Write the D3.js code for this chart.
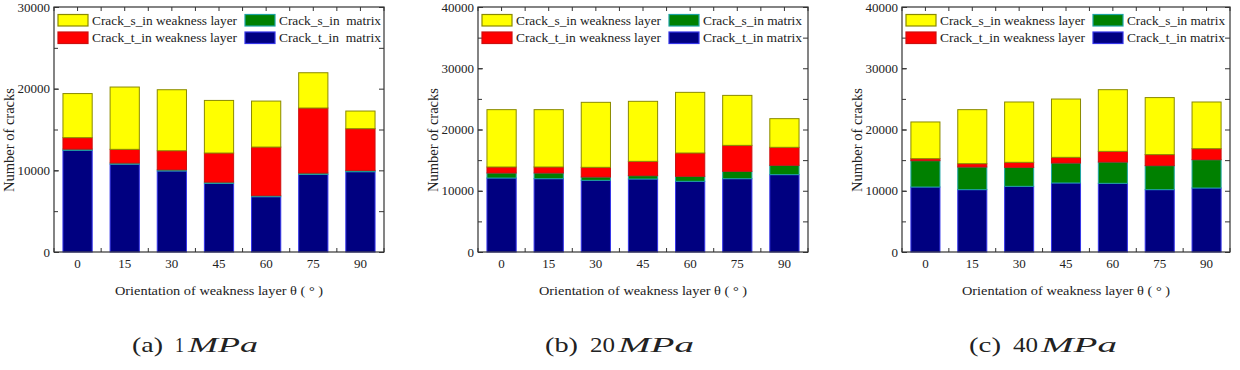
<!DOCTYPE html>
<html>
<head>
<meta charset="utf-8">
<script src="https://cdn.jsdelivr.net/npm/d3@7"></script>
<style>
  html, body { margin: 0; padding: 0; background: #fff; }
  svg { display: block; }
  text { font-family: "Liberation Serif", "Times New Roman", serif; fill: #222; }
</style>
</head>
<body>
<svg id="chart" width="1240" height="370"></svg>
<script>
// ---------- data ----------
const categories = ["0", "15", "30", "45", "60", "75", "90"];
const seriesNames = ["Crack_t_in matrix", "Crack_s_in matrix", "Crack_t_in weakness layer", "Crack_s_in weakness layer"];

// (a) 1 MPa
const crackTMatrix1 = [12450, 10750, 9920, 8400, 6770, 9500, 9830];
const crackSMatrix1 = [150, 150, 150, 160, 130, 170, 160];
const crackTWeak1   = [1400, 1670, 2330, 3560, 5950, 7960, 5110];
const crackSWeak1   = [5400, 7630, 7470, 6440, 5630, 4320, 2160];

// (b) 20 MPa
const crackTMatrix20 = [12080, 11970, 11700, 11920, 11540, 11970, 12630];
const crackSMatrix20 = [820, 930, 545, 540, 815, 1200, 1520];
const crackTWeak20   = [980, 980, 1580, 2340, 3810, 4240, 2940];
const crackSWeak20   = [9360, 9360, 10610, 9800, 9900, 8160, 4680];

// (c) 40 MPa
const crackTMatrix40 = [10610, 10180, 10720, 11270, 11210, 10180, 10450];
const crackSMatrix40 = [4300, 3700, 3100, 3260, 3480, 3920, 4620];
const crackTWeak40   = [330, 540, 820, 925, 1740, 1800, 1800];
const crackSWeak40   = [5990, 8820, 9850, 9520, 10070, 9310, 7620];

const yTicksA = [0, 10000, 20000, 30000];
const yTicksBC = [0, 10000, 20000, 30000, 40000];
const captionsLabel = ["(a)", "(b)", "(c)"];
const captionsValue = ["1", "20", "40"];

// ---------- styling ----------
const fills   = ["#000080", "#008000", "#ff0000", "#ffff00"];
const strokes = ["#3535e8", "#1fa3a3", "#cc1010", "#8a8a00"];

const panels = [
  { left: 54,  width: 330, ymax: 30000, ticks: yTicksA,  data: [crackTMatrix1, crackSMatrix1, crackTWeak1, crackSWeak1], legendMatrix: ["Crack_s_in  matrix", "Crack_t_in  matrix"], matrixW: 102,
    cap: { x1: 132, w1: 31, x2: 175, w2: 9, x3: 188, w3: 70 } },
  { left: 478, width: 330, ymax: 40000, ticks: yTicksBC, data: [crackTMatrix20, crackSMatrix20, crackTWeak20, crackSWeak20], legendMatrix: ["Crack_s_in matrix", "Crack_t_in matrix"], matrixW: 99,
    cap: { x1: 545, w1: 33, x2: 590, w2: 25, x3: 618, w3: 76 } },
  { left: 902, width: 328, ymax: 40000, ticks: yTicksBC, data: [crackTMatrix40, crackSMatrix40, crackTWeak40, crackSWeak40], legendMatrix: ["Crack_s_in matrix", "Crack_t_in matrix"], matrixW: 98,
    cap: { x1: 969, w1: 32, x2: 1013, w2: 25, x3: 1041, w3: 76 } }
];

const plotTop = 7, plotBottom = 252;
const svg = d3.select("#chart");

panels.forEach((p, pi) => {
  const g = svg.append("g");
  const right = p.left + p.width;
  const x = d3.scaleBand().domain(categories).range([p.left, right]).paddingInner(0.38).paddingOuter(0.19);
  const y = d3.scaleLinear().domain([0, p.ymax]).range([plotBottom, plotTop]);

  const rows = categories.map((c, i) => {
    const r = { cat: c };
    seriesNames.forEach((s, k) => r[s] = p.data[k][i]);
    return r;
  });
  const stacked = d3.stack().keys(seriesNames)(rows);

  // ticks on top & bottom (centres and midpoints), drawn under bars
  const step = x.step();
  const mids = categories.map(c => x(c) + x.bandwidth() / 2 - step / 2).concat([x(categories[categories.length - 1]) + x.bandwidth() / 2 + step / 2]);
  const centers = categories.map(c => x(c) + x.bandwidth() / 2);
  const tickG = g.append("g").attr("stroke", "#333").attr("stroke-width", 1);
  mids.concat(centers).forEach(px => {
    tickG.append("line").attr("x1", px).attr("x2", px).attr("y1", plotBottom).attr("y2", plotBottom - 4);
    tickG.append("line").attr("x1", px).attr("x2", px).attr("y1", plotTop).attr("y2", plotTop + 4);
  });

  // left / right y ticks (inward)
  const yMinor = d3.range(0, p.ymax + 1, 5000);
  const leftAxis = d3.axisLeft(y).tickValues(p.ticks).tickSize(-5).tickPadding(4).tickFormat(d3.format("d"));
  const leftMinor = d3.axisLeft(y).tickValues(yMinor).tickSize(-4).tickFormat("");
  const rightAxis = d3.axisRight(y).tickValues(yMinor).tickSize(-5).tickFormat("");

  const la = g.append("g").attr("transform", `translate(${p.left},0)`).call(leftMinor);
  la.select(".domain").remove();
  la.selectAll("line").attr("stroke", "#333");
  const lb = g.append("g").attr("transform", `translate(${p.left},0)`).call(leftAxis);
  lb.select(".domain").remove();
  lb.selectAll("line").attr("stroke", "#333");
  lb.selectAll("text").style("font-size", "13px").style("font-family", "'Liberation Serif', serif").attr("fill", "#222");
  const ra = g.append("g").attr("transform", `translate(${right},0)`).call(rightAxis);
  ra.select(".domain").remove();
  ra.selectAll("line").attr("stroke", "#333");

  // bars
  stacked.forEach((layer, k) => {
    g.append("g").selectAll("rect").data(layer).join("rect")
      .attr("x", d => x(d.data.cat))
      .attr("width", x.bandwidth())
      .attr("y", d => y(d[1]))
      .attr("height", d => Math.max(0, y(d[0]) - y(d[1])))
      .attr("fill", fills[k])
      .attr("stroke", strokes[k])
      .attr("stroke-width", 1);
  });

  // bottom axis labels
  const bottomAxis = d3.axisBottom(x).tickSize(0).tickPadding(7);
  const ba = g.append("g").attr("transform", `translate(0,${plotBottom})`).call(bottomAxis);
  ba.select(".domain").remove();
  ba.selectAll("text").style("font-size", "13px").style("font-family", "'Liberation Serif', serif").attr("fill", "#222");

  // frame
  g.append("rect").attr("x", p.left).attr("y", plotTop).attr("width", p.width).attr("height", plotBottom - plotTop)
    .attr("fill", "none").attr("stroke", "#333").attr("stroke-width", 1.2);

  // axis titles
  g.append("text").attr("x", p.left + p.width / 2 - 104).attr("y", 295)
    .style("font-size", "13.5px").attr("textLength", 208).attr("lengthAdjust", "spacingAndGlyphs")
    .text("Orientation of weakness layer θ ( ° )");
  g.append("text").attr("transform", `translate(${p.left - 40},140) rotate(-90)`).attr("text-anchor", "middle")
    .style("font-size", "14.5px").text("Number of cracks");

  // legend
  const legendItems = [
    { name: "Crack_s_in weakness layer", k: 3, col: 0, row: 0, w: 145 },
    { name: "Crack_t_in weakness layer", k: 2, col: 0, row: 1, w: 145 },
    { name: p.legendMatrix[0], k: 1, col: 1, row: 0, w: p.matrixW },
    { name: p.legendMatrix[1], k: 0, col: 1, row: 1, w: p.matrixW }
  ];
  legendItems.forEach(it => {
    const sx = p.left + (it.col === 0 ? 4 : 191);
    const sy = it.row === 0 ? 14.5 : 32;
    g.append("rect").attr("x", sx).attr("y", sy).attr("width", 30).attr("height", 11.5)
      .attr("fill", fills[it.k]).attr("stroke", strokes[it.k]).attr("stroke-width", 1.2);
    g.append("text").attr("x", sx + 34).attr("y", sy + 10).style("font-size", "13.5px")
      .style("white-space", "pre").attr("xml:space", "preserve")
      .attr("textLength", it.w).attr("lengthAdjust", "spacingAndGlyphs").text(it.name);
  });

  // caption
  const cy = 352;
  g.append("text").attr("x", p.cap.x1).attr("y", cy).style("font-size", "22px")
    .attr("textLength", p.cap.w1).attr("lengthAdjust", "spacingAndGlyphs").text(captionsLabel[pi]);
  g.append("text").attr("x", p.cap.x2).attr("y", cy).style("font-size", "22px")
    .attr("textLength", p.cap.w2).attr("lengthAdjust", "spacingAndGlyphs").text(captionsValue[pi]);
  g.append("text").attr("x", p.cap.x3).attr("y", cy).style("font-size", "22px").style("font-style", "italic")
    .attr("textLength", p.cap.w3).attr("lengthAdjust", "spacingAndGlyphs").text("MPa");
});
</script>
</body>
</html>
